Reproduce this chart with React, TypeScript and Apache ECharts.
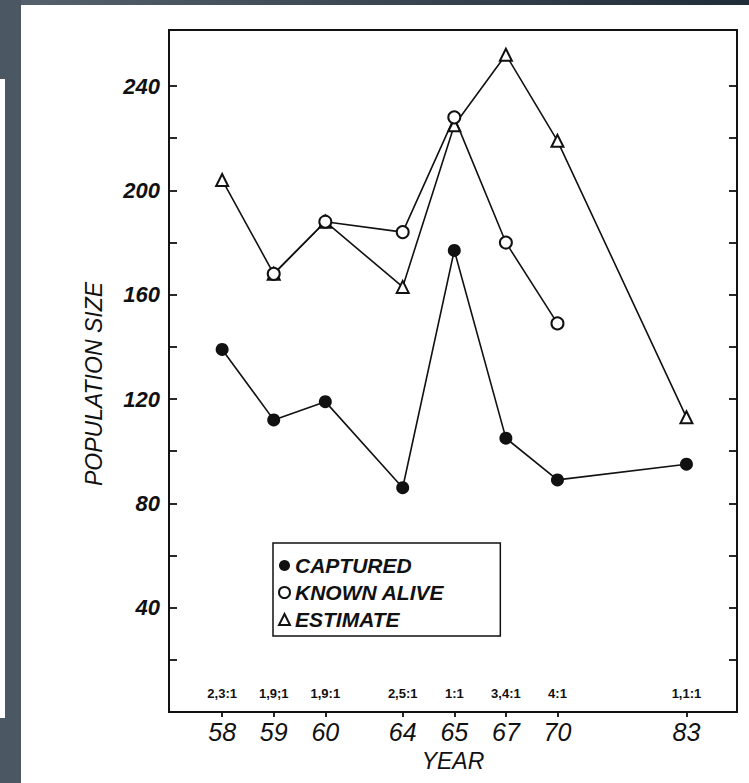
import React, { useEffect, useRef } from 'react';
import * as echarts from 'echarts';

// Survey years and where each sits along the (unevenly spaced) year axis
const years = ['58', '59', '60', '64', '65', '67', '70', '83'];
const yearSlots = [0, 1, 2, 3.5, 4.5, 5.5, 6.5, 9];
// Sex ratio printed above each survey year
const sexRatios = ['2,3:1', '1,9;1', '1,9:1', '2,5:1', '1:1', '3,4:1', '4:1', '1,1:1'];

// Population counts per survey year (null = not surveyed)
const captured = [139, 112, 119, 86, 177, 105, 89, 95];
const knownAlive: (number | null)[] = [null, 168, 188, 184, 228, 180, 149, null];
const estimate = [204, 168, 188, 163, 225, 252, 219, 113];

const yTickValues = [20, 40, 60, 80, 100, 120, 140, 160, 180, 200, 220, 240];
const yLabelValues = [40, 80, 120, 160, 200, 240];

const INK = '#111111';
const FONT = '"Liberation Sans", Arial, sans-serif';

const toPoints = (vals: (number | null)[]) =>
  vals
    .map((v, i) => (v == null ? null : [yearSlots[i], v]))
    .filter((p) => p !== null) as number[][];

const slotIndex = (v: number) => yearSlots.findIndex((s) => Math.abs(s - v) < 1e-6);

export default function App() {
  const ref = useRef<HTMLDivElement>(null);

  useEffect(() => {
    if (!ref.current) return;
    const chart = echarts.init(ref.current, undefined, { renderer: 'svg' });

    const xMin = -1.03;
    const xMax = 9.98;
    const yMin = 0;
    const yMax = 261.5;

    const frameLine = { show: true, onZero: false, lineStyle: { color: INK, width: 1.8 } };

    chart.setOption({
      animation: false,
      backgroundColor: '#ffffff',
      graphic: [
        {
          type: 'rect',
          shape: { x: 0, y: 0, width: 749, height: 5 },
          style: {
            fill: new echarts.graphic.LinearGradient(0, 0, 1, 0, [
              { offset: 0, color: '#56636e' },
              { offset: 1, color: '#1f2c39' },
            ]),
          },
          silent: true,
        },
        {
          type: 'rect',
          shape: { x: 0, y: 0, width: 21, height: 783 },
          style: { fill: '#4b5864' },
          silent: true,
        },
        {
          type: 'rect',
          shape: { x: 0, y: 79, width: 5, height: 639 },
          style: { fill: '#ffffff' },
          silent: true,
        },
      ],
      grid: {
        left: 169,
        right: 12,
        top: 30,
        bottom: 71,
        show: true,
        borderColor: INK,
        borderWidth: 1.8,
        backgroundColor: 'transparent',
      },
      legend: {
        left: 273,
        top: 543,
        orient: 'vertical',
        borderColor: INK,
        borderWidth: 1.5,
        padding: [12, 56, 6, 5],
        itemGap: 6,
        itemWidth: 11,
        itemHeight: 11,
        selectedMode: false,
        textStyle: {
          fontFamily: FONT,
          fontStyle: 'italic',
          fontWeight: 'bold',
          fontSize: 21,
          color: INK,
        },
        data: [
          { name: 'CAPTURED', icon: 'circle', itemStyle: { color: INK, borderWidth: 0 } },
          {
            name: 'KNOWN ALIVE',
            icon: 'circle',
            itemStyle: { color: '#ffffff', borderColor: INK, borderWidth: 2 },
          },
          {
            name: 'ESTIMATE',
            icon: 'triangle',
            itemStyle: { color: '#ffffff', borderColor: INK, borderWidth: 2 },
          },
        ],
      },
      xAxis: [
        {
          type: 'value',
          min: xMin,
          max: xMax,
          position: 'bottom',
          splitLine: { show: false },
          axisLine: frameLine,
          axisTick: {
            show: true,
            customValues: yearSlots,
            length: 5,
            lineStyle: { color: INK, width: 1.8 },
          },
          axisLabel: {
            customValues: yearSlots,
            formatter: (v: number) => years[slotIndex(v)] ?? '',
            margin: 7,
            fontFamily: FONT,
            fontStyle: 'italic',
            fontSize: 25,
            color: INK,
          },
          name: 'YEAR',
          nameLocation: 'middle',
          nameGap: 37,
          nameTextStyle: {
            fontFamily: FONT,
            fontStyle: 'italic',
            fontSize: 23,
            color: INK,
          },
        },
        {
          type: 'value',
          min: xMin,
          max: xMax,
          position: 'bottom',
          splitLine: { show: false },
          axisLine: { show: false, onZero: false },
          axisTick: { show: false },
          axisLabel: {
            inside: true,
            customValues: yearSlots,
            formatter: (v: number) => sexRatios[slotIndex(v)] ?? '',
            margin: 12,
            fontFamily: FONT,
            fontWeight: 'bold',
            fontSize: 13,
            color: INK,
          },
        },
      ],
      yAxis: [
        {
          type: 'value',
          min: yMin,
          max: yMax,
          position: 'left',
          splitLine: { show: false },
          axisLine: frameLine,
          axisTick: {
            show: true,
            inside: true,
            customValues: yTickValues,
            length: 8,
            lineStyle: { color: INK, width: 1.8 },
          },
          axisLabel: {
            customValues: yLabelValues,
            margin: 9,
            fontFamily: FONT,
            fontStyle: 'italic',
            fontWeight: 'bold',
            fontSize: 22,
            color: INK,
          },
          name: 'POPULATION SIZE',
          nameLocation: 'middle',
          nameRotate: 90,
          nameGap: 64,
          nameTextStyle: {
            fontFamily: FONT,
            fontStyle: 'italic',
            fontSize: 23,
            color: INK,
            padding: [0, 26, 0, 0],
          },
        },
        {
          type: 'value',
          min: yMin,
          max: yMax,
          position: 'right',
          splitLine: { show: false },
          axisLine: frameLine,
          axisTick: {
            show: true,
            inside: true,
            customValues: yTickValues,
            length: 8,
            lineStyle: { color: INK, width: 1.8 },
          },
          axisLabel: { show: false },
        },
      ],
      series: [
        {
          name: 'ESTIMATE',
          type: 'line',
          xAxisIndex: 0,
          yAxisIndex: 0,
          data: toPoints(estimate),
          symbol: 'triangle',
          symbolSize: 12,
          showAllSymbol: true,
          lineStyle: { color: INK, width: 1.6 },
          itemStyle: { color: '#ffffff', borderColor: INK, borderWidth: 2 },
          z: 2,
        },
        {
          name: 'KNOWN ALIVE',
          type: 'line',
          xAxisIndex: 0,
          yAxisIndex: 0,
          data: toPoints(knownAlive),
          symbol: 'circle',
          symbolSize: 12,
          showAllSymbol: true,
          lineStyle: { color: INK, width: 1.6 },
          itemStyle: { color: '#ffffff', borderColor: INK, borderWidth: 2 },
          z: 3,
        },
        {
          name: 'CAPTURED',
          type: 'line',
          xAxisIndex: 0,
          yAxisIndex: 0,
          data: toPoints(captured),
          symbol: 'circle',
          symbolSize: 13,
          showAllSymbol: true,
          lineStyle: { color: INK, width: 1.6 },
          itemStyle: { color: INK, borderWidth: 0 },
          z: 4,
        },
      ],
    });

    return () => chart.dispose();
  }, []);

  return (
    <div
      ref={ref}
      style={{ position: 'absolute', left: 0, top: 0, width: 749, height: 783 }}
    />
  );
}
